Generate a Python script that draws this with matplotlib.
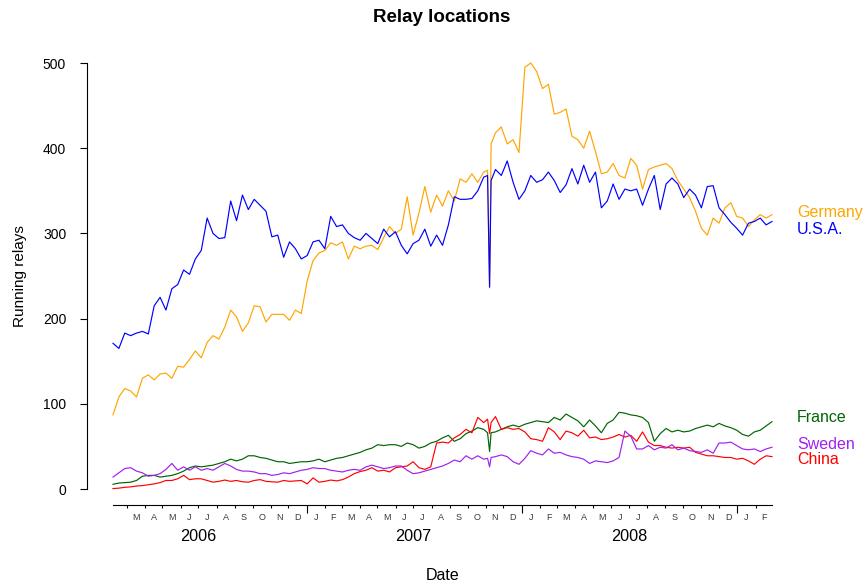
import matplotlib
matplotlib.use("Agg")
import matplotlib.pyplot as plt
import matplotlib.transforms as mtransforms
import pandas as pd

plt.rcParams['font.family'] = ['Liberation Sans', 'DejaVu Sans']

# ~10-day sampling from Feb 2006 to end of Feb 2009, plus two extra days
# around the short outage in early November 2007
base_dates = pd.date_range("2006-02-06", "2009-03-01", periods=113)
dates = base_dates.insert(64, pd.Timestamp("2007-11-04")).insert(66, pd.Timestamp("2007-11-10"))

germany = [87, 108, 118, 115, 108, 130, 134, 128, 135, 136,
           130, 144, 143, 152, 162, 154, 172, 180, 176, 190,
           210, 202, 185, 195, 215, 214, 196, 205, 205, 205,
           198, 210, 206, 244, 268, 277, 280, 289, 286, 290,
           270, 285, 282, 285, 286, 281, 295, 308, 300, 305,
           343, 298, 324, 355, 325, 345, 332, 350, 338, 364,
           360, 370, 360, 372, 374, 236, 405, 418, 425, 405, 410, 395,
           495, 500, 490, 470, 475, 440, 442, 446, 414, 410,
           400, 420, 396, 370, 372, 382, 368, 365, 388, 380,
           352, 375, 378, 380, 382, 376, 362, 352, 342, 326,
           306, 298, 318, 312, 330, 336, 320, 318, 308, 316,
           322, 318, 322]

usa = [171, 165, 183, 180, 183, 185, 182, 215, 225, 210,
       235, 240, 257, 252, 270, 280, 318, 300, 294, 295,
       338, 315, 345, 328, 340, 333, 326, 296, 298, 272,
       290, 282, 270, 274, 290, 292, 282, 320, 308, 310,
       300, 295, 292, 300, 294, 288, 305, 296, 302, 286,
       276, 288, 292, 305, 285, 298, 286, 310, 343, 340,
       340, 341, 350, 366, 368, 237, 362, 375, 368, 385, 360, 340,
       350, 368, 360, 363, 372, 362, 348, 357, 376, 358,
       380, 360, 372, 330, 338, 358, 340, 352, 350, 352,
       333, 352, 368, 328, 358, 365, 358, 342, 352, 345,
       330, 355, 356, 330, 322, 313, 306, 298, 312, 314,
       318, 310, 314]

france = [5.5, 7, 7.5, 8, 10, 15, 16, 16, 14, 15,
          16, 18, 21, 25, 27, 26, 27, 28, 30, 32,
          35, 33, 35, 39, 39, 37, 36, 34, 32, 32,
          30, 31, 32, 32, 33, 35, 32, 34, 36, 37,
          39, 41, 43, 46, 48, 52, 51, 52, 52, 50,
          54, 52, 48, 50, 54, 56, 60, 63, 56, 59,
          65, 68, 72, 70, 66, 44, 66, 67, 70, 73, 75, 73,
          76, 78, 80, 79, 78, 84, 81, 88, 84, 80,
          73, 81, 74, 66, 77, 81, 90, 89, 87, 86,
          84, 78, 56, 65, 71, 67, 69, 67, 68, 71,
          73, 75, 73, 77, 74, 72, 69, 64, 62, 67,
          69, 74, 79]

sweden = [14, 19, 24, 25, 21, 19, 15, 16, 18, 23,
          30, 22, 26, 22, 26, 22, 24, 22, 26, 30,
          27, 23, 21, 21, 20, 18, 18, 16, 17, 19,
          18, 20, 22, 23, 25, 24, 24, 22, 21, 20,
          22, 23, 22, 26, 28, 26, 24, 25, 27, 27,
          22, 18, 19, 21, 23, 25, 27, 30, 34, 32,
          39, 35, 39, 35, 36, 26, 37, 38, 40, 38, 32, 29,
          36, 45, 42, 40, 47, 42, 43, 40, 38, 37,
          35, 30, 33, 32, 31, 33, 37, 68, 62, 47,
          47, 51, 46, 49, 48, 52, 46, 48, 45, 44,
          43, 46, 42, 54, 54, 55, 51, 47, 46, 47,
          44, 47, 49]

china = [0.5, 1, 2, 2.5, 3.5, 4, 5, 6, 7.5, 10,
         10, 12, 16, 11, 12, 12, 10, 8, 9, 10.5,
         9, 10, 8.5, 8, 10, 11, 9, 8.5, 8, 10,
         9, 9.5, 10, 6, 13, 8, 9, 10.5, 9.5, 11,
         14, 18, 20.5, 22, 25, 21, 22, 20, 25, 26,
         27, 32, 25, 23, 26, 54, 55, 54, 60, 64,
         70, 66, 84, 78, 82, 65, 78, 85, 70, 72, 70, 71,
         67, 59, 58, 56, 72, 67, 58, 68, 66, 62,
         69, 60, 61, 58, 59, 61, 64, 61, 63, 56,
         67, 55, 51, 51, 49, 48, 49, 48, 49, 43,
         41, 39, 39, 38, 37, 37, 35, 36, 33, 29,
         35, 39, 38]

series_names = ["Germany", "U.S.A.", "France", "Sweden", "China"]
series_values = [germany, usa, france, sweden, china]
series_colors = ["orange", "blue", "darkgreen", "#A020F0", "red"]
label_y = [325, 304, 84.5, 52.8, 35.2]

month_letters = ["J", "F", "M", "A", "M", "J", "J", "A", "S", "O", "N", "D"]
year_labels = ["2006", "2007", "2008"]

W, H = 865, 583
fig = plt.figure(figsize=(W / 100, H / 100), dpi=100)
ax = fig.add_axes([113 / W, 83 / H, 659 / W, 460 / H])

draw_order = [0, 1, 2, 4, 3]
for k in draw_order:
    ax.plot(dates, series_values[k], color=series_colors[k], lw=0.85,
            clip_on=False, solid_joinstyle='round')

ax.set_xlim(dates[0], dates[-1])
ax.set_ylim(-12.91, 527.0)

for s in ["top", "right"]:
    ax.spines[s].set_visible(False)
ax.spines["left"].set_position(("outward", 18.72))
ax.spines["left"].set_bounds(0, 500)
ax.spines["bottom"].set_position(("outward", 3.6))
for s in ["left", "bottom"]:
    ax.spines[s].set_linewidth(0.8)

ax.set_yticks([0, 100, 200, 300, 400, 500])
ax.tick_params(axis="y", labelsize=10, length=5, width=0.8, pad=10)

month_starts = pd.date_range("2006-03-01", "2009-02-01", freq="MS")
year_starts = pd.to_datetime(["2007-01-01", "2008-01-01", "2009-01-01"])
ax.set_xticks(year_starts)
ax.set_xticklabels([])
ax.set_xticks(month_starts, minor=True)
ax.tick_params(axis="x", which="major", length=6, width=0.8)
ax.tick_params(axis="x", which="minor", length=2.2, width=0.8)

trans = mtransforms.blended_transform_factory(ax.transData, ax.transAxes)
for m in month_starts:
    nxt = m + pd.offsets.MonthBegin(1)
    mid = m + (nxt - m) / 2
    ax.text(mid, -0.0391, month_letters[m.month - 1], transform=trans,
            ha="center", va="center", fontsize=6.5, color="#3a3a3a")
for yl in year_labels:
    ax.text(pd.Timestamp(f"{yl}-07-01"), -0.0804, yl, transform=trans,
            ha="center", va="center", fontsize=11.7)

ax.text(0.5, -0.1652, "Date", transform=ax.transAxes, ha="center",
        va="center", fontsize=11.5)
fig.text(20 / W, 1 - 276 / H, "Running relays", rotation=90,
         ha="center", va="center", fontsize=11)
fig.text(442 / W, 1 - 17 / H, "Relay locations", ha="center", va="center",
         fontsize=13.5, fontweight="bold")

rtrans = mtransforms.blended_transform_factory(ax.transAxes, ax.transData)
for name, col, ly in zip(series_names, series_colors, label_y):
    ax.text((797 - 113) / 659, ly, name, transform=rtrans, ha="left",
            va="center", fontsize=11.5, color=col)

fig.savefig("out.png", dpi=100)
